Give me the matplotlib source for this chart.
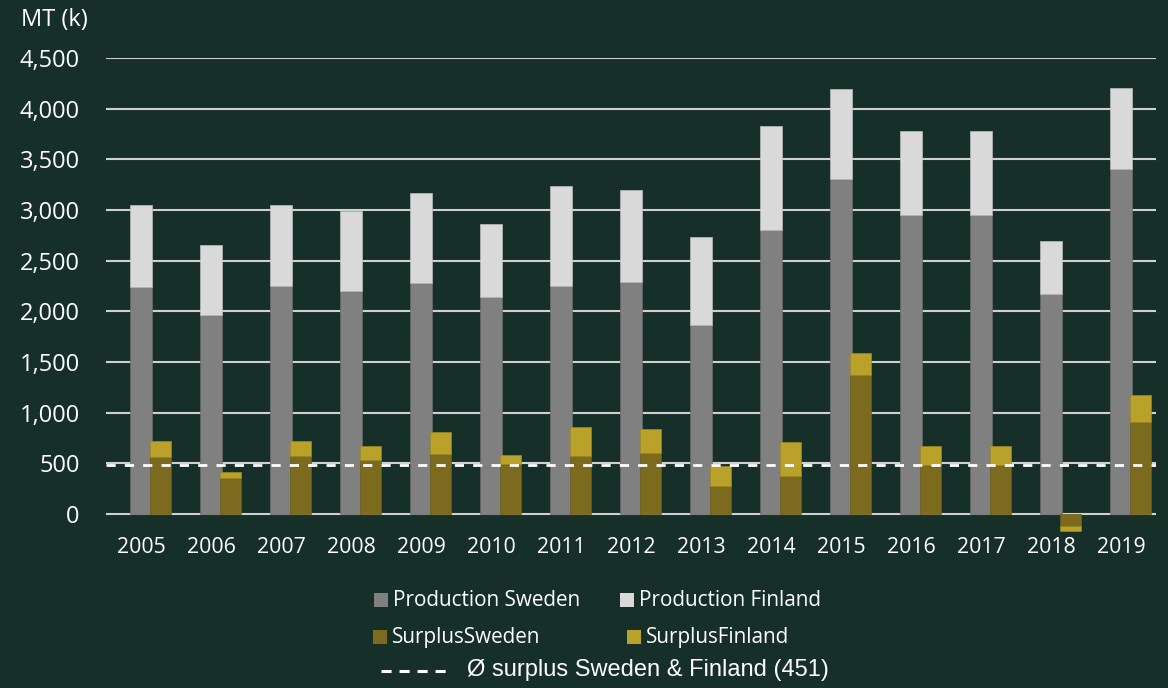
import numpy
import matplotlib.pyplot as plt
from matplotlib.patches import Rectangle
from matplotlib.lines import Line2D

years = ['2005', '2006', '2007', '2008', '2009', '2010', '2011', '2012',
         '2013', '2014', '2015', '2016', '2017', '2018', '2019']
prod_sweden = [2240, 1964, 2250, 2200, 2280, 2142, 2250, 2290, 1865, 2803, 3306, 2950, 2950, 2171, 3405]
prod_total = [3050, 2655, 3050, 2990, 3168, 2862, 3237, 3197, 2734, 3829, 4194, 3780, 3780, 2694, 4204]
prod_finland = [t - s for t, s in zip(prod_total, prod_sweden)]
surplus_sweden = [566, 352, 572, 533, 589, 490, 569, 599, 276, 375, 1372, 480, 480, -115, 908]
surplus_total = [717, 414, 720, 671, 809, 579, 859, 836, 477, 708, 1589, 668, 668, -165, 1174]
surplus_finland = [t - s for t, s in zip(surplus_total, surplus_sweden)]
avg_line = 480
avg_label = 'Ø surplus Sweden & Finland (451)'
yticks = numpy.arange(0, 4501, 500)

BG = '#172F29'
C_PS = '#808080'
C_PF = '#D9D9D9'
C_SS = '#7C6A1E'
C_SF = '#B9A12A'
TXT = 'white'
FONT = 'Open Sans'

fig = plt.figure(figsize=(11.68, 6.88), dpi=100, facecolor=BG)
ax = fig.add_axes([0.0908, 0.2234, 0.8989, 0.6923], facecolor=BG)

x = numpy.arange(len(years))
w = 0.31
off = 0.28

ax.bar(x, prod_sweden, w, color=C_PS, zorder=2, edgecolor='#6a6a6a', linewidth=0.5)
ax.bar(x, prod_finland, w, bottom=prod_sweden, color=C_PF, zorder=2, edgecolor='#bcbcbc', linewidth=0.5)
ax.bar(x + off, surplus_sweden, w, color=C_SS, zorder=3, edgecolor='#6a5c1a', linewidth=0.5)
ax.bar(x + off, surplus_finland, w, bottom=surplus_sweden, color=C_SF, zorder=3, edgecolor='#9c8824', linewidth=0.5)

for t in yticks:
    ax.axhline(t, color='#D0D0D0', linewidth=1.5, zorder=1)
ax.axhline(avg_line, color='white', linewidth=2.0, linestyle=(0, (3.3, 3.3)), zorder=4)

ax.set_xlim(-0.5, 14.5)
ax.set_ylim(-200, 4500)
ax.set_yticks(yticks)
ax.set_yticklabels([f'{v:,}' for v in yticks])
ax.set_xticks(x)
ax.set_xticklabels(years)
ax.tick_params(axis='y', length=0, pad=19, labelsize=17, labelcolor=TXT)
ax.tick_params(axis='x', length=0, pad=2, labelsize=15.3, labelcolor=TXT)
for lab in ax.get_xticklabels() + ax.get_yticklabels():
    lab.set_family(FONT)
for s in ax.spines.values():
    s.set_visible(False)

fig.text(21 / 1168, 1 - 20 / 688, 'MT (k)', color=TXT, fontsize=17, family=FONT, va='center', ha='left')

# legend, drawn by hand
def px(xp, yp):
    return xp / 1168, 1 - yp / 688

def swatch(xp, yp, color):
    fx, fy = px(xp, yp + 7)
    fig.add_artist(Rectangle((fx, fy), 14 / 1168, 14 / 688, transform=fig.transFigure,
                             facecolor=color, edgecolor='none'))

items = [(374, 600, C_PS, 'Production Sweden'), (620, 600, C_PF, 'Production Finland'),
         (373, 637, C_SS, 'SurplusSweden'), (627, 637, C_SF, 'SurplusFinland')]
for xp, yp, c, label in items:
    swatch(xp, yp, c)
    fx, fy = px(xp + 19, yp)
    fig.text(fx, fy, label, color=TXT, fontsize=14.9, family=FONT, va='center', ha='left')

lx0, ly = px(381, 671)
lx1, _ = px(446, 671)
fig.add_artist(Line2D([lx0, lx1], [ly, ly], transform=fig.transFigure, color='white',
                      linewidth=2.2, linestyle=(0, (3.3, 2.6))))
fx, fy = px(467, 670)
fig.text(fx, fy, avg_label, color=TXT, fontsize=17, family='Liberation Sans', va='center', ha='left')

plt.savefig('out.png', dpi=100, facecolor=BG)
